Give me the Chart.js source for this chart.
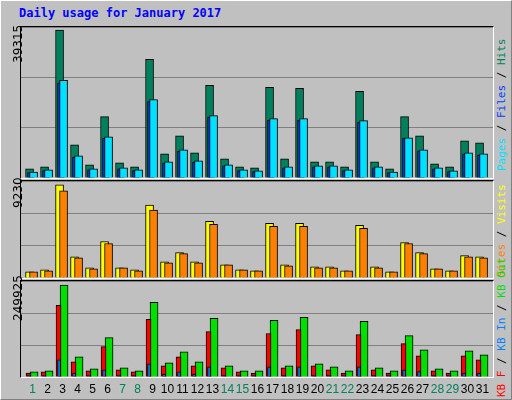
<!DOCTYPE html>
<html><head><meta charset="utf-8">
<script src="https://cdn.jsdelivr.net/npm/chart.js@4/dist/chart.umd.min.js"></script>
<style>
body{margin:0;background:#fff;}
#wrap{position:relative;width:510px;height:398px;background:#c0c0c0;border-top:1px solid #fff;border-left:1px solid #fff;border-right:1px solid #808080;border-bottom:1px solid #808080;overflow:hidden;font-family:"DejaVu Sans",sans-serif;}
.pan{position:absolute;left:19px;width:472px;border-top:1px solid #000;border-left:1px solid #000;border-right:1px solid #fff;border-bottom:1px solid #fff;}
.pan canvas{display:block}
.rot{position:absolute;transform-origin:0 0;transform:rotate(-90deg);white-space:nowrap;}
.yl{font-size:12px;color:#000;}
.rl{font-family:"DejaVu Sans Mono",monospace;font-size:11px;}
#title{position:absolute;left:18px;top:5px;color:#0000ff;font-family:"DejaVu Sans Mono",monospace;font-weight:bold;font-size:12px;}
.dl{position:absolute;top:381px;font-family:"Liberation Sans",sans-serif;font-size:12px;width:20px;text-align:center;}
</style></head><body>
<div id="wrap">
<div id="title">Daily usage for January 2017</div>
<div class="pan" style="top:25px;height:151px"><canvas id="c1"></canvas></div>
<div class="pan" style="top:179px;height:97px"><canvas id="c2"></canvas></div>
<div class="pan" style="top:279px;height:96px"><canvas id="c3"></canvas></div>
<div class="rot yl" style="left:10px;top:62px">39315</div>
<div class="rot yl" style="left:10px;top:207px">9230</div>
<div class="rot yl" style="left:10px;top:320px">249925</div>
<div class="rot rl" style="left:494px;top:170px"><span style="color:#00e0ff">Pages</span><span style="color:#000"> / </span><span style="color:#0040ff">Files</span><span style="color:#000"> / </span><span style="color:#00805c">Hits</span></div>
<div class="rot rl" style="left:494px;top:276px"><span style="color:#ff8000">Sites</span><span style="color:#000"> / </span><span style="color:#ffff00">Visits</span></div>
<div class="rot rl" style="left:494px;top:396px"><span style="color:#ff0000">KB F</span><span style="color:#000"> / </span><span style="color:#0080ff">KB In</span><span style="color:#000"> / </span><span style="color:#00e000">KB Out</span></div>
<div id="days"></div>
</div>
<script>
const days=[1,2,3,4,5,6,7,8,9,10,11,12,13,14,15,16,17,18,19,20,21,22,23,24,25,26,27,28,29,30,31];
const weekend=[1,7,8,14,15,21,22,28,29];
const hits=[2359,2883,38531,8650,3407,15989,3932,2883,30929,6291,11009,6553,24115,4980,2883,2621,23590,4980,23328,4194,4194,2883,22542,4194,2359,15989,11009,3670,2883,9698,9174];
const files=[1573,2097,25425,5767,2359,10747,2621,2097,20445,4194,7339,4456,16251,3408,2097,1835,15465,2883,15465,3146,3146,2097,14941,2883,1573,10485,7339,2621,1835,6553,6291];
const pages=[1400,1900,24800,5400,2150,10300,2400,1900,19900,3900,6950,4150,15800,3150,1900,1650,15000,2650,15000,2900,2900,1900,14500,2650,1400,10400,7050,2400,1650,6250,5950];
const visits=[579,772,8876,2026,965,3473,965,772,6947,1544,2412,1544,5403,1254,772,675,5210,1254,5210,1061,1061,675,5017,1061,579,3377,2412,868,675,2123,2026];
const sites=[579,675,8297,1930,868,3280,965,675,6464,1447,2316,1447,5113,1254,772,675,4920,1158,4920,965,965,675,4728,965,579,3280,2316,868,675,2026,1930];
const kbF=[10524,13155,186801,39465,15786,78930,18417,13155,149967,28941,52620,28941,118395,23679,13155,10524,113133,23679,123657,28941,18417,10524,110502,18417,10524,86823,55251,15786,10524,55251,44727];
const kbIn=[5262,5262,44727,10524,5262,18417,5262,5262,34203,7893,13155,7893,26310,5262,5262,5262,26310,5262,26310,5262,5262,5262,26310,5262,5262,18417,14000,5262,5262,10524,10524];
const kbOut=[13155,15786,239421,52620,21048,102609,23679,15786,194694,36834,65775,39465,152598,28941,15786,15786,147336,28941,155229,34203,26310,15786,144705,23679,15786,107871,71037,21048,15786,68406,57882];
const maxes=[39315,9230,249925];

const PX=15; // px per day
const XMIN=0.43, XMAX=XMIN+472/PX;
function ds(vals,off,w,color,order){
  return {data:vals.map((v,i)=>({x:days[i]+off/PX,y:v})),backgroundColor:color,borderColor:'#000',borderWidth:1,
    barThickness:w,order:order,grouped:false,borderSkipped:'bottom'};
}
function mk(id,max,sets){
  new Chart(document.getElementById(id),{type:'bar',data:{datasets:sets},
    options:{responsive:true,maintainAspectRatio:false,animation:false,events:[],
      layout:{padding:0},
      plugins:{legend:{display:false},tooltip:{enabled:false}},
      scales:{x:{type:'linear',min:XMIN,max:XMAX,offset:false,bounds:'ticks',display:false},
        y:{min:0,max:max,ticks:{display:false,stepSize:max/3},border:{display:false},
           grid:{color:'#808080',lineWidth:1,drawTicks:false,tickLength:0}}}}});
}
mk('c1',maxes[0],[ds(hits,0,8,'#00805c',3),ds(pages,1.5,7,'#0040ff',2),ds(files,4,8,'#00e0ff',1)]);
mk('c2',maxes[1],[ds(visits,0,8,'#ffff00',2),ds(sites,4,8,'#ff8000',1)]);
mk('c3',maxes[2],[ds(kbF,-1,5,'#ff0000',2),ds(kbIn,-0.5,3,'#0080ff',1),ds(kbOut,4.5,8,'#00e000',3)]);
const dd=document.getElementById('days');
days.forEach(d=>{const e=document.createElement('div');e.className='dl';e.textContent=d;
  e.style.left=(20+(d-XMIN)*PX+3-10)+'px';e.style.color=weekend.includes(d)?'#00805c':'#000';dd.appendChild(e);});
</script>
</body></html>
